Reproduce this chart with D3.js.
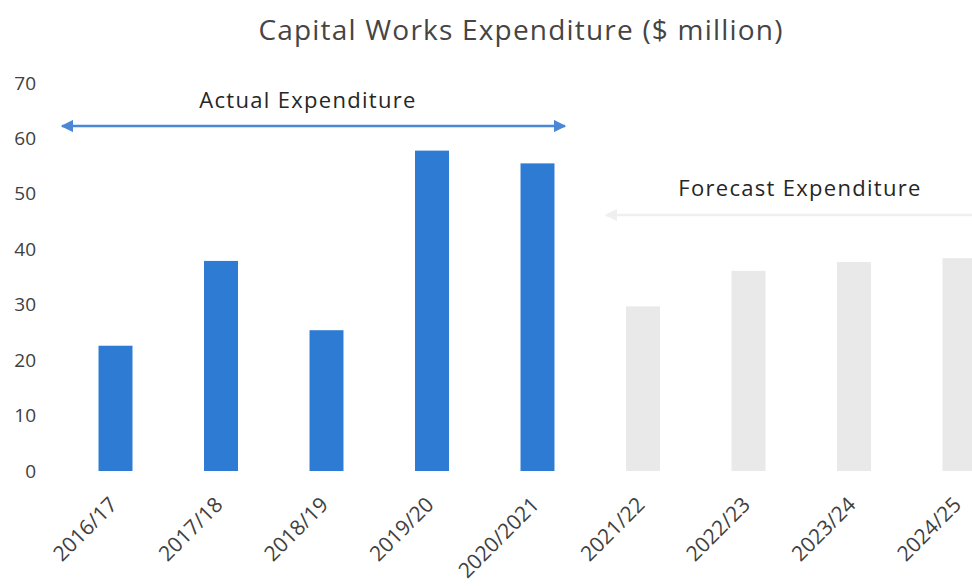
<!DOCTYPE html>
<html>
<head>
<meta charset="utf-8">
<script src="https://cdn.jsdelivr.net/npm/d3@7"></script>
<style>
  html, body { margin: 0; padding: 0; background: #fff; overflow: hidden; }
  svg { display: block; font-family: "Open Sans", sans-serif; }
</style>
</head>
<body>
<svg id="chart" width="972" height="586"></svg>
<script>
// Capital works spend, $ million
const years = ['2016/17', '2017/18', '2018/19', '2019/20', '2020/2021',
               '2021/22', '2022/23', '2023/24', '2024/25'];
const spend = [22.6, 37.9, 25.4, 57.8, 55.5, 29.7, 36.1, 37.7, 38.4];
const kind  = ['actual', 'actual', 'actual', 'actual', 'actual',
               'forecast', 'forecast', 'forecast', 'forecast'];
const yTicks = [0, 10, 20, 30, 40, 50, 60, 70];

const svg = d3.select('#chart');

const x = d3.scaleBand()
  .domain(years)
  .range([62.75, 1012.25])
  .paddingInner(0.678)
  .paddingOuter(0.339);

const y = d3.scaleLinear().domain([0, 70]).range([471, 83]);

const colors = { actual: '#2e7bd3', forecast: '#e9e9e9' };

// title
svg.append('text')
  .attr('x', 521).attr('y', 40)
  .attr('text-anchor', 'middle')
  .attr('font-size', 28)
  .attr('letter-spacing', 1.2)
  .attr('fill', '#454545')
  .text('Capital Works Expenditure ($ million)');

// y axis labels only, no line
const yAxis = svg.append('g')
  .attr('transform', 'translate(36,0)')
  .call(d3.axisLeft(y).tickValues(yTicks).tickSize(0).tickPadding(0));
yAxis.select('.domain').remove();
yAxis.selectAll('text')
  .attr('font-size', 19)
  .attr('fill', '#404040')
  .attr('font-family', '"Open Sans", sans-serif');

// bars
svg.append('g').selectAll('rect')
  .data(years)
  .join('rect')
    .attr('x', d => x(d))
    .attr('width', x.bandwidth())
    .attr('y', (d, i) => y(spend[i]))
    .attr('height', (d, i) => y(0) - y(spend[i]))
    .attr('fill', (d, i) => colors[kind[i]]);

// x labels, rotated
const xAxis = svg.append('g')
  .attr('transform', `translate(0,${y(0)})`)
  .call(d3.axisBottom(x).tickSize(0).tickPadding(0));
xAxis.select('.domain').remove();
xAxis.selectAll('text')
  .attr('font-size', 21)
  .attr('fill', '#404040')
  .attr('font-family', '"Open Sans", sans-serif')
  .attr('text-anchor', 'end')
  .attr('dy', 0)
  .attr('transform', 'translate(3,35) rotate(-45)');

// arrow markers
const defs = svg.append('defs');
[['blue', '#4a87d6'], ['grey', '#efefef']].forEach(([id, c]) => {
  defs.append('marker')
    .attr('id', `head-${id}`)
    .attr('viewBox', '0 -5 10 10')
    .attr('refX', 9).attr('refY', 0)
    .attr('markerWidth', 5).attr('markerHeight', 5)
    .attr('markerUnits', 'strokeWidth')
    .attr('orient', 'auto-start-reverse')
    .append('path')
      .attr('d', 'M0,-5L10,0L0,5Z')
      .attr('fill', c);
});

// actual span
svg.append('line')
  .attr('x1', 62).attr('x2', 565)
  .attr('y1', 126).attr('y2', 126)
  .attr('stroke', '#4a87d6').attr('stroke-width', 2.5)
  .attr('marker-start', 'url(#head-blue)')
  .attr('marker-end', 'url(#head-blue)');
svg.append('text')
  .attr('x', 308).attr('y', 108)
  .attr('text-anchor', 'middle')
  .attr('font-size', 22)
  .attr('letter-spacing', 1.3)
  .attr('fill', '#262626')
  .text('Actual Expenditure');

// forecast span
svg.append('line')
  .attr('x1', 606).attr('x2', 985)
  .attr('y1', 215).attr('y2', 215)
  .attr('stroke', '#efefef').attr('stroke-width', 2.5)
  .attr('marker-start', 'url(#head-grey)')
  .attr('marker-end', 'url(#head-grey)');
svg.append('text')
  .attr('x', 800).attr('y', 196)
  .attr('text-anchor', 'middle')
  .attr('font-size', 22)
  .attr('letter-spacing', 1.3)
  .attr('fill', '#262626')
  .text('Forecast Expenditure');
</script>
</body>
</html>
